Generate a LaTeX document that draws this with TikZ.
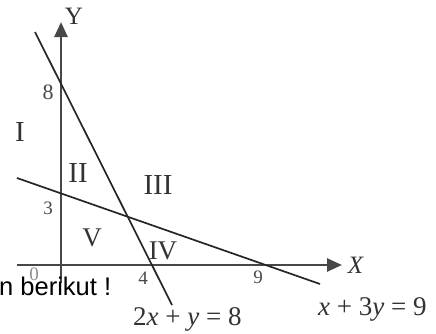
\documentclass[tikz,border=0pt]{standalone}
\usepackage{fontspec}
\setmainfont{Liberation Serif}
\newfontfamily\arialf{Liberation Sans}
\usetikzlibrary{arrows.meta}
\begin{document}
\begin{tikzpicture}[x=1pt,y=-1pt,
  axis/.style={line width=2.6pt, draw=black!72, -{Triangle[length=15pt,width=13pt]}},
  graphline/.style={line width=1.7pt, draw=black!85},
  roman/.style={inner sep=0pt, font=\fontsize{29}{31}\selectfont, text=black!80},
  tick/.style={inner sep=0pt, font=\fontsize{19}{21}\selectfont, text=black!72},
  axlabel/.style={inner sep=0pt, font=\fontsize{25}{27}\selectfont, text=black!80},
  eqn/.style={inner sep=0pt, anchor=base west, font=\fontsize{27}{29}\selectfont, text=black!80},
]
\useasboundingbox (0,0) rectangle (436,333);
% axes
\coordinate (xs) at (17,265);
\coordinate (xe) at (342,265);
\coordinate (ys) at (61,283);
\coordinate (ye) at (61,22);
\draw[axis] (xs) -- (xe);
\draw[axis] (ys) -- (ye);
% lines
\coordinate (a1) at (35,32);
\coordinate (a2) at (172,305);
\coordinate (b1) at (17,178);
\coordinate (b2) at (320,284);
\draw[graphline] (a1) -- (a2);
\draw[graphline] (b1) -- (b2);
% axis labels
\node[axlabel] (ylab) at (74,16) {Y};
\node[axlabel] (xlab) at (356,265) {\textit{X}};
% ticks
\node[tick, text=black!45] (t0) at (34,274) {0};
\node[tick] (t4) at (143,278) {4};
\node[tick] (t9) at (258,277) {9};
\node[tick] (t3) at (48,208) {3};
\node[tick, font=\fontsize{22}{24}\selectfont] (t8) at (48,92) {8};
% regions
\node[roman] (r1) at (20,132) {I};
\node[roman] (r2) at (78,173) {II};
\node[roman] (r3) at (158,185) {III};
\node[roman, font=\fontsize{27}{29}\selectfont] (r4) at (163,251) {IV};
\node[roman, font=\fontsize{27}{29}\selectfont] (r5) at (92,238) {V};
% equations
\node[eqn] (e1) at (133,325) {2\textit{x} + \textit{y} = 8};
\node[eqn] (e2) at (318,315) {\textit{x} + 3\textit{y} = 9};
% cut-off text
\node[inner sep=0pt, anchor=base west, font=\arialf\fontsize{25.5}{27}\selectfont] (txt) at (-1,295) {n berikut !};
\end{tikzpicture}
\end{document}
